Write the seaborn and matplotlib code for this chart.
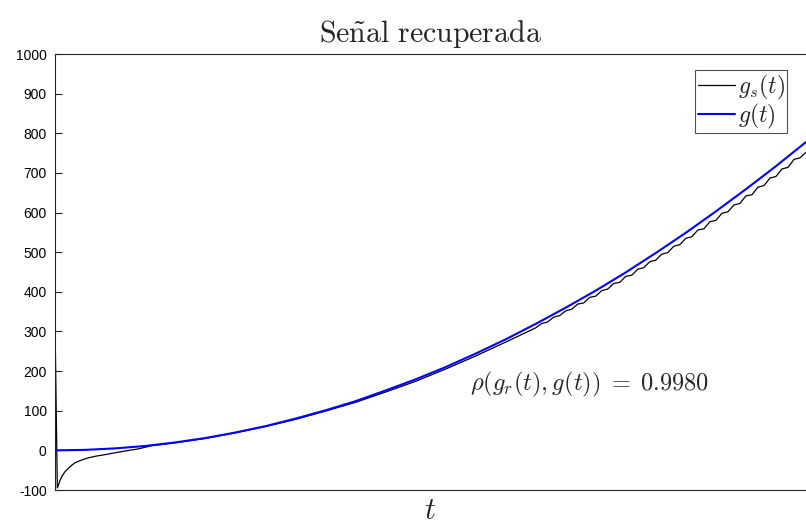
import matplotlib
matplotlib.use("Agg")
import matplotlib.pyplot as plt
import seaborn as sns
import pandas as pd

# ---- data ----
t_g = [0, 1, 2, 3, 4, 5, 6, 7, 8, 9, 10, 11, 12, 13, 14, 15, 16, 17, 18, 19,
       20, 21, 22, 23, 24, 25]
g_vals = [0, 1.2, 5, 11, 20, 31, 45, 61, 80, 101, 124, 151, 179, 210, 244,
          280, 319, 360, 403, 449, 498, 549, 603, 659, 717, 778]

t_s = [0, 0.077, 0.12, 0.17, 0.25, 0.33, 0.5, 0.67, 0.9, 1.1, 1.4, 1.66,
       2.0, 2.23, 2.5, 2.76, 3.23, 4, 5, 6,
       7, 8, 9, 10, 11, 12, 13, 14, 15,
       16.0, 16.2, 16.4, 16.6, 16.8, 17.0, 17.2, 17.4, 17.6, 17.8,
       18.0, 18.2, 18.4, 18.6, 18.8, 19.0, 19.2, 19.4, 19.6, 19.8,
       20.0, 20.2, 20.4, 20.6, 20.8, 21.0, 21.2, 21.4, 21.6, 21.8,
       22.0, 22.2, 22.4, 22.6, 22.8, 23.0, 23.2, 23.4, 23.6, 23.8,
       24.0, 24.2, 24.4, 24.6, 24.8, 25.0]
gs_vals = [320, -95, -86, -75, -63, -54, -41, -31, -24, -19, -14, -11,
           -6, -3, 0.5, 3.5, 12, 19, 30, 44,
           60, 78, 99, 121, 147, 174, 205, 238, 273,
           309, 320, 324, 336, 340, 352, 356, 369, 372, 386,
           389, 403, 407, 421, 424, 439, 442, 457, 461, 476,
           480, 495, 499, 515, 519, 535, 539, 556, 559, 577,
           580, 598, 602, 619, 623, 642, 645, 664, 668, 687,
           691, 710, 714, 734, 738, 752]

y_ticks = [-100, 0, 100, 200, 300, 400, 500, 600, 700, 800, 900, 1000]
title_text = r"$\mathrm{Se\tilde{n}al\ recuperada}$"
corr_text = r"$\rho(g_r(t),g(t))\;=\;0.9980$"

df_s = pd.DataFrame({"t": t_s, "v": gs_vals})
df_g = pd.DataFrame({"t": t_g, "v": g_vals})

sns.set_style("white")
plt.rcParams["mathtext.fontset"] = "cm"
plt.rcParams["font.family"] = ["Liberation Sans", "DejaVu Sans"]

fig = plt.figure(figsize=(8.06, 5.27), dpi=100)
ax = fig.add_axes([55 / 806, 1 - 490 / 527, 1 - 55 / 806, (490 - 54) / 527])

sns.lineplot(data=df_s, x="t", y="v", ax=ax, color="black", linewidth=0.9,
             sort=False, estimator=None, label=r"$g_s(t)$")
sns.lineplot(data=df_g, x="t", y="v", ax=ax, color="#0000ff", linewidth=1.5,
             sort=False, estimator=None, label=r"$g(t)$")

ax.set_xlim(0, 25)
ax.set_ylim(-100, 1000)
ax.set_yticks(y_ticks)
ax.set_yticklabels([str(v) for v in y_ticks])
ax.set_xticks([])
ax.tick_params(axis="y", direction="in", length=5, width=0.8, labelsize=10,
               colors="#262626", left=True, pad=6)
for lbl in ax.get_yticklabels():
    lbl.set_color("black")

for side in ["left", "top", "bottom"]:
    ax.spines[side].set_visible(True)
    ax.spines[side].set_color("#262626")
    ax.spines[side].set_linewidth(0.8)
ax.spines["right"].set_visible(False)

ax.set_title(title_text, fontsize=21.5, pad=9)
ax.set_xlabel(r"$t$", fontsize=22, labelpad=4)
ax.set_ylabel("")

ax.text(0.553, 0.241, corr_text, transform=ax.transAxes, fontsize=17.6,
        ha="left", va="center")

leg = ax.legend(loc="upper right", bbox_to_anchor=(0.975, 0.963), fontsize=17,
                frameon=True, fancybox=False, handlelength=1.6,
                handletextpad=0.1, borderpad=0.1, labelspacing=0.0,
                borderaxespad=0)
leg.get_frame().set_edgecolor("#262626")
leg.get_frame().set_linewidth(0.8)

fig.savefig("out.png", dpi=100)
